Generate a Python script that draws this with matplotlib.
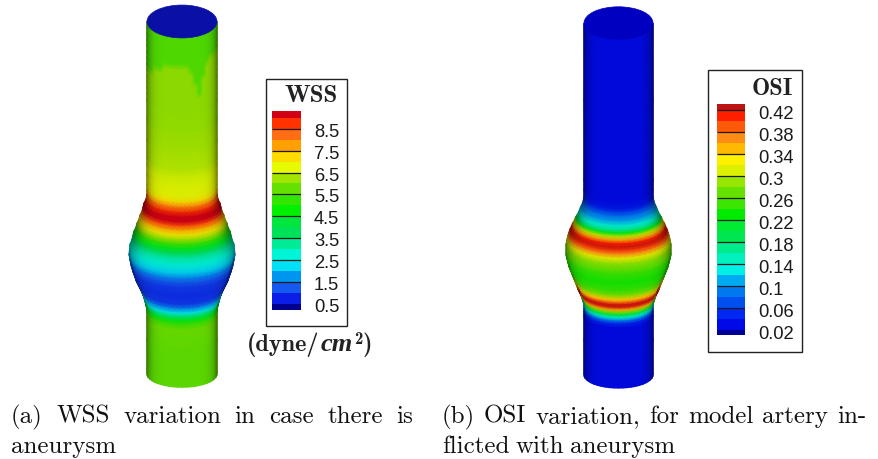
import numpy as np
import matplotlib
matplotlib.use("Agg")
import matplotlib.pyplot as plt
from matplotlib.colors import LinearSegmentedColormap
from matplotlib.patches import Ellipse, Rectangle

# WSS model: axial station, radius, wall value
wss_z = [22, 28, 34, 40, 46, 52, 58, 64, 70, 76, 82, 88, 94, 100, 120, 140, 158, 165, 175, 185, 190, 195, 200, 204, 208,
         212, 216, 220, 224, 228, 232, 236, 240, 245, 250, 255, 260, 265, 270, 280, 290, 295, 300, 304, 308, 312,
         318, 340, 375]
wss_r = [35, 35, 35, 35, 35, 35, 35, 35, 35, 35, 35, 35, 35, 35, 35, 35, 35, 35, 35, 35, 35, 35, 36, 38, 39,
         40, 42, 43, 45, 46, 48, 49, 50, 52, 52.5, 53, 52, 51, 49.5, 46, 41, 39, 37.5, 36.5, 35.5, 35,
         35, 35, 35]
wss_v = [6.15, 6.15, 6.15, 6.15, 6.15, 6.15, 6.15, 6.15, 6.15, 6.15, 6.15, 6.15, 6.15, 6.15, 6.2, 6.3, 6.4, 6.6, 6.7, 6.8, 7.2, 8.0, 8.8, 9.4, 9.4,
         8.5, 7.6, 7.0, 6.2, 5.4, 4.5, 3.8, 3.2, 2.8, 2.5, 2.1, 1.6, 1.2, 1.0, 0.9, 1.0, 1.6, 2.4, 3.5, 4.5, 5.3,
         5.8, 5.7, 5.7]
# darker green patch on the upper wall: lower limit of the patch per mesh column
patch_edge = [70, 69, 68, 66, 64, 62, 61, 58, 56, 54, 53, 52, 52, 57, 62, 72, 83, 68, 54, 50, 47, 47, 48, 49, 50]
patch_v = 5.55

wss_levels = [0.24, 0.5, 1, 1.5, 2, 2.5, 3, 3.5, 4, 4.5, 5, 5.5, 6, 6.5, 7, 7.5, 8, 8.5, 9, 9.3]
wss_colors = ['#00008c', '#0a1ee6', '#145af0', '#0096f0', '#00e1f5', '#00f5d7', '#00eb96', '#00e15a', '#00e63c',
              '#00f000', '#32e600', '#64e100', '#a0e600', '#e6fa00', '#ffdc00', '#ffa000', '#ff6e14', '#ff3200',
              '#d20014']
wss_ticks = [8.5, 7.5, 6.5, 5.5, 4.5, 3.5, 2.5, 1.5, 0.5]
wss_labels = ['8.5', '7.5', '6.5', '5.5', '4.5', '3.5', '2.5', '1.5', '0.5']

# OSI model
osi_z = [24, 100, 180, 190, 197, 200, 204, 208, 212, 215, 218, 221, 224, 227, 230, 233, 236, 240, 245, 255, 265, 275,
         280, 285, 288, 291, 294, 297, 300, 303, 306, 309, 312, 316, 340, 376]
osi_r = [34.5, 34.5, 34.5, 34.5, 34.5, 35, 36, 38, 39.5, 41, 43, 44, 46, 47, 48.5, 49.5, 50.5, 51.5, 52.5, 52.5, 50, 46,
         44, 42, 41, 39.5, 38, 37, 36, 35, 34.5, 34.5, 34.5, 34.5, 34.5, 34.5]
osi_v = [0.03, 0.03, 0.03, 0.03, 0.04, 0.06, 0.09, 0.11, 0.14, 0.16, 0.22, 0.30, 0.36, 0.41, 0.42, 0.40, 0.37, 0.32, 0.29, 0.25, 0.235, 0.25,
         0.28, 0.34, 0.38, 0.42, 0.42, 0.36, 0.28, 0.2, 0.14, 0.09, 0.05, 0.03, 0.03, 0.03]

osi_levels = [0.01, 0.02, 0.04, 0.06, 0.08, 0.1, 0.12, 0.14, 0.16, 0.18, 0.2, 0.22, 0.24, 0.26, 0.28, 0.3, 0.32, 0.34,
              0.36, 0.38, 0.4, 0.42, 0.43]
osi_colors = ['#000096', '#000ae6', '#0028f0', '#0050f0', '#0078f0', '#00aaf0', '#00f0e6', '#00f0be', '#00eb8c',
              '#00e650', '#00eb32', '#00eb00', '#3ce600', '#64e100', '#96e600', '#dcf000', '#fff000', '#ffb900',
              '#ff8c14', '#ff5a0a', '#ff1e00', '#be1414']
osi_ticks = [0.42, 0.38, 0.34, 0.3, 0.26, 0.22, 0.18, 0.14, 0.1, 0.06, 0.02]
osi_labels = ['0.42', '0.38', '0.34', '0.3', '0.26', '0.22', '0.18', '0.14', '0.1', '0.06', '0.02']

fig = plt.figure(figsize=(8.79, 4.6), dpi=100)
ax = fig.add_axes([0, 0, 1, 1])
ax.set_xlim(0, 879)
ax.set_ylim(460, 0)
ax.axis('off')
renderer = fig.canvas.get_renderer()


def make_cmap(levels, colors):
    levels = np.array(levels)
    mids = (levels[:-1] + levels[1:]) / 2
    pos = (mids - levels[0]) / (levels[-1] - levels[0])
    stops = [(0, colors[0])] + list(zip(pos, colors)) + [(1, colors[-1])]
    return LinearSegmentedColormap.from_list('bands', stops), levels[0], levels[-1]


def draw_artery(cx, z, r, v, levels, colors, cap_y, cap_r, cap_color, patch=None, tilt=0.38):
    cmap, lo, hi = make_cmap(levels, colors)
    theta = np.radians(np.linspace(-90, 90, 25))
    z = np.array(z, dtype=float)
    r = np.array(r, dtype=float)
    vals = np.tile(np.array(v)[:, None], (1, len(theta)))
    if patch is not None:
        for j, edge in enumerate(patch):
            vals[z <= edge, j] = patch_v
    X = cx + np.outer(r, np.sin(theta))
    Y = z[:, None] + tilt * np.outer(r, np.cos(theta))
    rgb = cmap((vals - lo) / (hi - lo))[:, :, :3]
    shade = 1 - 0.42 * np.abs(np.sin(theta)) ** 8
    rgb = rgb * shade[None, :, None] * 0.95
    ax.pcolormesh(X, Y, rgb, shading='gouraud', zorder=2)
    ax.add_patch(Ellipse((cx, cap_y), 2 * cap_r, 2 * 0.47 * cap_r, fc=cap_color, ec=cap_color, lw=0.5, zorder=3))


draw_artery(182, wss_z, wss_r, wss_v, wss_levels, wss_colors, 22.5, 35, '#0a0fa5', patch=patch_edge)
draw_artery(618.5, osi_z, osi_r, osi_v, osi_levels, osi_colors, 24, 34.5, '#0000c0')


def draw_legend(box, bar, levels, colors, ticks, labels, title, title_xy, title_size, label_x, label_off):
    ax.add_patch(Rectangle((box[0], box[1]), box[2] - box[0], box[3] - box[1], fc='white', ec='#222222', lw=1, zorder=4))
    cax = fig.add_axes([bar[0] / 879, 1 - bar[3] / 460, (bar[2] - bar[0]) / 879, (bar[3] - bar[1]) / 460])
    cax.set_xlim(0, 1)
    cax.set_ylim(levels[0], levels[-1])
    cax.axis('off')
    levels = np.array(levels)
    cax.bar(0.5, np.diff(levels), width=1, bottom=levels[:-1], color=colors)
    cax.hlines(ticks[:-1], 0, 1, color='#1a1a1a', lw=0.9)
    for t, lab in zip(ticks, labels):
        cax.annotate(lab, (0, t), xycoords=('axes fraction', 'data'), xytext=(label_x - bar[0], -label_off),
                     textcoords='offset pixels', va='center', ha='left', fontsize=13.2,
                     family='Liberation Sans', color='#1a1a1a', annotation_clip=False)
    ax.text(title_xy[0], title_xy[1], title, family='cmb10', fontsize=title_size, ha='center', va='center',
            color='#222222', zorder=5)


draw_legend((266, 80, 347, 327), (272, 112, 301, 311), wss_levels, wss_colors, wss_ticks, wss_labels,
            'WSS', (311, 96), 18, 314, 2.5)
draw_legend((708, 71, 802, 353), (717, 105, 745, 336), osi_levels, osi_colors, osi_ticks, osi_labels,
            'OSI', (772, 89), 17.5, 758, 4)

# unit label, set piece by piece so all of it stays bold
x = 247
unit_parts = [('(dyne/', 'cmb10', 'normal', 17.5, 351), ('cm', 'Liberation Serif', 'italic', 19, 351),
              ('2', 'cmb10', 'normal', 12, 344), (')', 'cmb10', 'normal', 17.5, 351)]
for part, fam, sty, size, base in unit_parts:
    t = ax.text(x, base, part, family=fam, style=sty, weight='bold' if fam != 'cmb10' else 'normal', fontsize=size,
                va='baseline', ha='left', color='#222222')
    x += t.get_window_extent(renderer).width + 1


def justified(line, x0, x1, y):
    # spread the words over the column like the typeset caption
    words = line.split()
    texts = [ax.text(x0, y, w, family='cmr10', fontsize=18, va='baseline', ha='left', color='#111111') for w in words]
    widths = [t.get_window_extent(renderer).width for t in texts]
    gap = 6.0 if x1 is None else (x1 - x0 - sum(widths)) / (len(words) - 1)
    x = x0
    for t, w in zip(texts, widths):
        t.set_x(x)
        x += w + gap


justified('(a) WSS variation in case there is', 11, 413, 423)
justified('aneurysm', 11, None, 453)
justified('(b) OSI variation, for model artery in-', 442, 866, 423)
justified('flicted with aneurysm', 442, None, 453)

fig.savefig('out.png', dpi=100)
